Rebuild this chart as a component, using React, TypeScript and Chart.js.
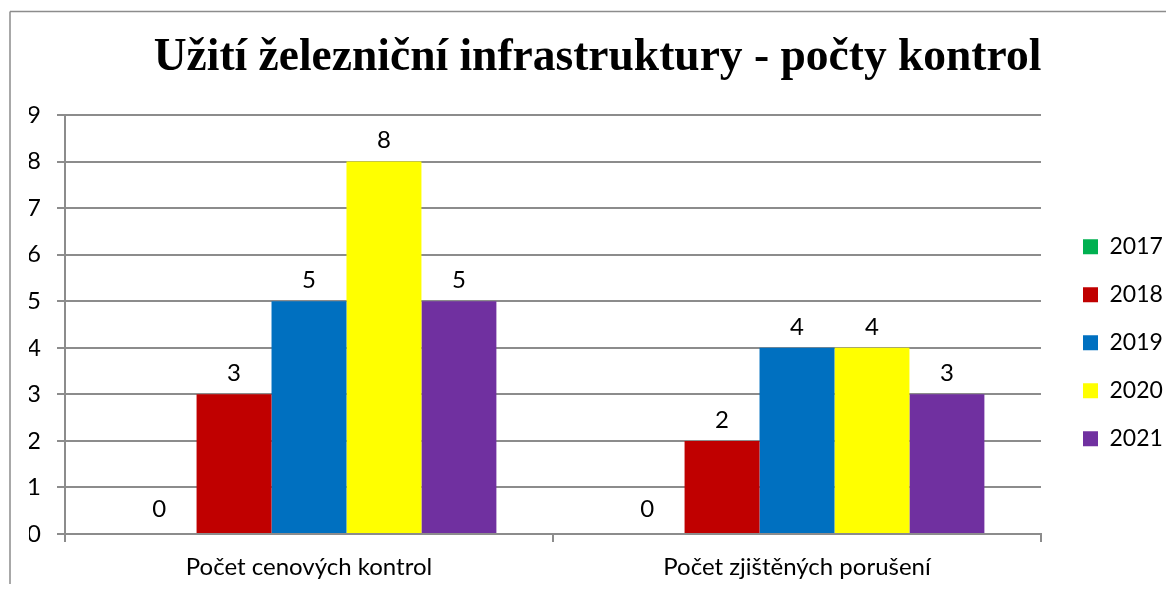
import React, { useEffect, useRef } from "react";
import { Chart, registerables } from "chart.js";

Chart.register(...registerables);

// ---- data ----
const titleText = "Užití železniční infrastruktury - počty kontrol";
const categories = ["Počet cenových kontrol", "Počet zjištěných porušení"];
const seriesLabels = ["2017", "2018", "2019", "2020", "2021"];
const values2017 = [0, 0];
const values2018 = [3, 2];
const values2019 = [5, 4];
const values2020 = [8, 4];
const values2021 = [5, 3];
const seriesValues = [values2017, values2018, values2019, values2020, values2021];
const seriesColors = ["#00B050", "#C00000", "#0070C0", "#FFFF00", "#7030A0"];
const yMin = 0;
const yMax = 9;
const yStep = 1;

// ---- style constants ----
const GRID = "#8c8c8c";
const SANS = "Lato, 'Open Sans', sans-serif";
const CANVAS_W = 1158;
const CANVAS_H = 576;
const LEGEND_W = 125;
const LEGEND_FONT = 23;
const LEGEND_PAD = 48 - LEGEND_FONT;
const LEGEND_BOX_X = 1075;
const LEGEND_BOX_TOP = 231.3;

const framePlugin = {
  id: "frame",
  beforeDraw(chart: any) {
    const ctx = chart.ctx;
    ctx.save();
    ctx.strokeStyle = GRID;
    ctx.lineWidth = 1.5;
    ctx.beginPath();
    ctx.moveTo(2, 3.5);
    ctx.lineTo(chart.width, 3.5);
    ctx.moveTo(2, 3.5);
    ctx.lineTo(2, chart.height);
    ctx.stroke();
    ctx.restore();
  },
};

const legendPlacePlugin = {
  id: "legendPlace",
  beforeLayout(chart: any) {
    const lg = chart.legend;
    if (lg && !lg.__patched) {
      const orig = lg.fit;
      lg.fit = function () {
        orig.call(this);
        this.width = LEGEND_W;
      };
      lg.__patched = true;
    }
  },
  afterLayout(chart: any) {
    const lg = chart.legend;
    if (!lg) return;
    const left = LEGEND_BOX_X - LEGEND_PAD;
    const top = LEGEND_BOX_TOP - (LEGEND_FONT - 15) / 2 - LEGEND_PAD;
    lg.left = left;
    lg.right = left + lg.width;
    lg.top = top;
    lg.bottom = top + lg.height;
  },
};

const valueLabelPlugin = {
  id: "valueLabels",
  afterDatasetsDraw(chart: any) {
    const ctx = chart.ctx;
    ctx.save();
    ctx.font = `24px ${SANS}`;
    ctx.fillStyle = "#000";
    ctx.textAlign = "center";
    ctx.textBaseline = "middle";
    chart.data.datasets.forEach((ds: any, i: number) => {
      const meta = chart.getDatasetMeta(i);
      meta.data.forEach((el: any, j: number) => {
        const v = ds.data[j];
        ctx.fillText(String(v), el.x, el.y - (v === 0 ? 25 : 21));
      });
    });
    ctx.restore();
  },
};

export default function App() {
  const ref = useRef<HTMLCanvasElement>(null);
  useEffect(() => {
    const canvas = ref.current;
    if (!canvas) return;
    const chart = new Chart(canvas, {
      type: "bar",
      data: {
        labels: categories,
        datasets: seriesLabels.map((label, i) => ({
          label,
          data: seriesValues[i],
          backgroundColor: seriesColors[i],
          borderWidth: 0,
          categoryPercentage: 0.768,
          barPercentage: 1,
        })),
      },
      options: {
        responsive: false,
        animation: false,
        devicePixelRatio: 1,
        layout: { padding: { left: 21, right: 0, top: 0, bottom: 0 } },
        scales: {
          x: {
            grid: {
              display: true,
              drawOnChartArea: false,
              drawTicks: true,
              tickLength: 8,
              color: GRID,
              lineWidth: 2,
              offset: true,
            },
            border: { display: true, color: GRID, width: 2 },
            ticks: {
              font: { family: SANS, size: 24 },
              color: "#000",
              padding: 11,
              maxRotation: 0,
              autoSkip: false,
            },
            afterFit: (s: any) => {
              s.height = 50;
            },
          },
          y: {
            min: yMin,
            max: yMax,
            ticks: {
              stepSize: yStep,
              font: { family: SANS, size: 24 },
              color: "#000",
              padding: 16,
            },
            grid: { color: GRID, lineWidth: 2, tickLength: 8, drawTicks: true },
            border: { display: true, color: GRID, width: 2 },
            afterFit: (s: any) => {
              s.width = 36;
            },
          },
        },
        plugins: {
          title: {
            display: true,
            text: titleText,
            color: "#000",
            font: { family: "'Liberation Serif', serif", size: 45.5, weight: "bold", lineHeight: 1.2 },
            padding: { top: 23, bottom: 29.4 },
          },
          legend: {
            display: true,
            position: "right",
            align: "start",
            labels: {
              boxWidth: 15,
              boxHeight: 15,
              padding: LEGEND_PAD,
              color: "#000",
              font: { family: SANS, size: LEGEND_FONT, lineHeight: 1 },
            },
          },
          tooltip: { enabled: false },
        },
      } as any,
      plugins: [framePlugin, legendPlacePlugin, valueLabelPlugin],
    });
    return () => chart.destroy();
  }, []);

  return (
    <div style={{ width: CANVAS_W, height: CANVAS_H }}>
      <canvas ref={ref} width={CANVAS_W} height={CANVAS_H} style={{ display: "block" }} />
    </div>
  );
}
